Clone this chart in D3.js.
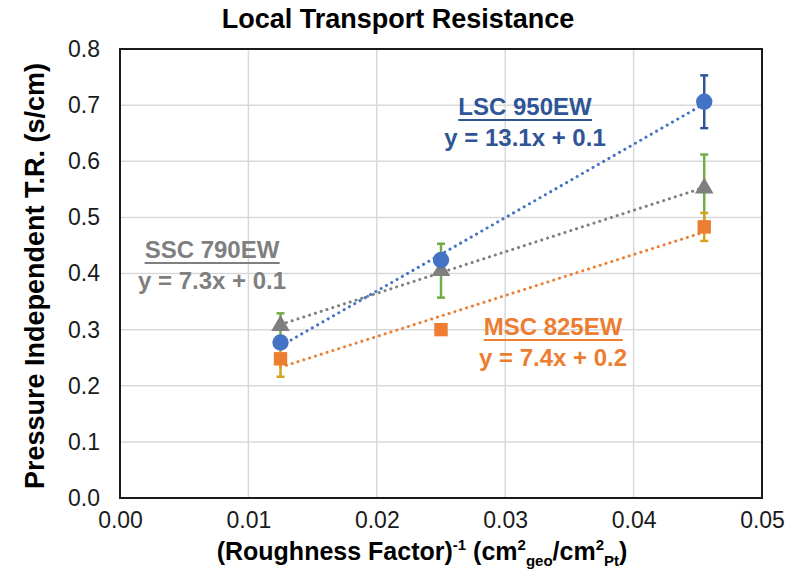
<!DOCTYPE html>
<html lang="en">
<head>
    <meta charset="utf-8" />
    <title>Local Transport Resistance</title>
    <script src="https://d3js.org/d3.v7.min.js"></script>
    <style>
        body { margin: 0; background: #fff; }
        svg { display: block; font-family: "Liberation Sans", Arial, sans-serif; }
    </style>
</head>
<body>
    <script>
        var w = 798;
        var h = 576;
        var padL = 120, padR = 762, padT = 49, padB = 498;

        // x values (inverse roughness factor)
        var xValues = [0.0125, 0.025, 0.0455];

        // series values
        var lscValues = [0.277, 0.424, 0.706];
        var lscErrors = [0, 0, 0.047];
        var sscValues = [0.307, 0.405, 0.552];
        var sscErrors = [0.022, 0.048, 0.06];
        var mscValues = [0.248, 0.300, 0.483];
        var mscErrors = [0.032, 0, 0.025];

        var xTicks = [0, 0.01, 0.02, 0.03, 0.04, 0.05];
        var yTicks = [0, 0.1, 0.2, 0.3, 0.4, 0.5, 0.6, 0.7, 0.8];

        var series = [
            { name: "SSC 790EW", eq: "y = 7.3x + 0.1", values: sscValues, errors: sscErrors,
              color: "#7f7f7f", errColor: "#70ad47", shape: "triangle", lx: 212, ly: 258 },
            { name: "LSC 950EW", eq: "y = 13.1x + 0.1", values: lscValues, errors: lscErrors,
              color: "#4472c4", errColor: "#2f5597", text: "#2f5597", shape: "circle", lx: 525, ly: 115 },
            { name: "MSC 825EW", eq: "y = 7.4x + 0.2", values: mscValues, errors: mscErrors,
              color: "#ed7d31", errColor: "#d4a21c", shape: "square", lx: 553, ly: 335 }
        ];

        var xScale = d3.scaleLinear().domain([0, 0.05]).range([padL, padR]);
        var yScale = d3.scaleLinear().domain([0, 0.8]).range([padB, padT]);

        var svg = d3.select("body").append("svg")
            .attr("width", w)
            .attr("height", h);

        // gridlines
        svg.append("g")
            .selectAll("line")
            .data(xTicks.slice(1, -1))
            .enter().append("line")
            .attr("x1", d => xScale(d)).attr("x2", d => xScale(d))
            .attr("y1", padT).attr("y2", padB)
            .attr("stroke", "#d9d9d9").attr("stroke-width", 1.5);
        svg.append("g")
            .selectAll("line")
            .data(yTicks.slice(1, -1))
            .enter().append("line")
            .attr("x1", padL).attr("x2", padR)
            .attr("y1", d => yScale(d)).attr("y2", d => yScale(d))
            .attr("stroke", "#d9d9d9").attr("stroke-width", 1.5);

        // axes (labels only, frame drawn below)
        var xAxis = d3.axisBottom(xScale).tickValues(xTicks).tickSize(0).tickPadding(14)
            .tickFormat(d3.format(".2f"));
        var gx = svg.append("g")
            .attr("transform", "translate(0," + padB + ")")
            .call(xAxis);
        var yAxis = d3.axisLeft(yScale).tickValues(yTicks).tickSize(0).tickPadding(20)
            .tickFormat(d3.format(".1f"));
        var gy = svg.append("g")
            .attr("transform", "translate(" + padL + ",0)")
            .call(yAxis);
        [gx, gy].forEach(function (g) {
            g.select(".domain").remove();
            g.selectAll("text")
                .attr("font-family", "'Liberation Sans', Arial, sans-serif")
                .attr("font-size", "23px")
                .attr("fill", "#1a1a1a");
        });

        // plot frame
        svg.append("rect")
            .attr("x", padL).attr("y", padT)
            .attr("width", padR - padL).attr("height", padB - padT)
            .attr("fill", "none").attr("stroke", "#1a1a1a").attr("stroke-width", 2);

        // trend lines (least squares fit of each series)
        series.forEach(function (s) {
            var n = xValues.length;
            var mx = d3.mean(xValues), my = d3.mean(s.values);
            var sxy = 0, sxx = 0;
            for (var i = 0; i < n; i++) {
                sxy += (xValues[i] - mx) * (s.values[i] - my);
                sxx += (xValues[i] - mx) * (xValues[i] - mx);
            }
            var slope = sxy / sxx, icpt = my - slope * mx;
            var x0 = d3.min(xValues), x1 = d3.max(xValues);
            svg.append("line")
                .attr("x1", xScale(x0)).attr("y1", yScale(icpt + slope * x0))
                .attr("x2", xScale(x1)).attr("y2", yScale(icpt + slope * x1))
                .attr("stroke", s.color).attr("stroke-width", 3)
                .attr("stroke-linecap", "round")
                .attr("stroke-dasharray", "0.1 6");
        });

        // error bars
        series.forEach(function (s) {
            var g = svg.append("g");
            xValues.forEach(function (x, i) {
                var e = s.errors[i];
                if (!e) return;
                var cx = xScale(x);
                var y1 = yScale(s.values[i] + e), y2 = yScale(s.values[i] - e);
                g.append("line").attr("x1", cx).attr("x2", cx).attr("y1", y1).attr("y2", y2)
                    .attr("stroke", s.errColor).attr("stroke-width", 2.5);
                [y1, y2].forEach(function (yy) {
                    g.append("line").attr("x1", cx - 4).attr("x2", cx + 4).attr("y1", yy).attr("y2", yy)
                        .attr("stroke", s.errColor).attr("stroke-width", 2.5);
                });
            });
        });

        // markers
        var symbols = { circle: d3.symbolCircle, square: d3.symbolSquare, triangle: d3.symbolTriangle };
        var sizes = { circle: 210, square: 180, triangle: 150 };
        series.forEach(function (s) {
            svg.append("g")
                .selectAll("path")
                .data(xValues)
                .enter().append("path")
                .attr("d", d3.symbol().type(symbols[s.shape]).size(sizes[s.shape]))
                .attr("transform", (d, i) => "translate(" + xScale(d) + "," + yScale(s.values[i]) + ")")
                .attr("fill", s.color);
        });

        // series labels with equations
        series.forEach(function (s) {
            var c = s.text || s.color;
            var t = svg.append("text")
                .attr("x", s.lx).attr("y", s.ly)
                .attr("text-anchor", "middle")
                .attr("font-size", "24px").attr("font-weight", "bold")
                .attr("fill", c)
                .text(s.name);
            var bb = t.node().getBBox();
            svg.append("line")
                .attr("x1", bb.x).attr("x2", bb.x + bb.width)
                .attr("y1", s.ly + 5).attr("y2", s.ly + 5)
                .attr("stroke", c).attr("stroke-width", 2);
            svg.append("text")
                .attr("x", s.lx).attr("y", s.ly + 31)
                .attr("text-anchor", "middle")
                .attr("font-size", "24px").attr("font-weight", "bold")
                .attr("fill", c)
                .text(s.eq);
        });

        // title
        svg.append("text")
            .attr("x", 398).attr("y", 28)
            .attr("text-anchor", "middle")
            .attr("font-size", "27px").attr("font-weight", "bold")
            .attr("fill", "#000")
            .text("Local Transport Resistance");

        // y label
        svg.append("text")
            .attr("transform", "rotate(-90)")
            .attr("x", -276).attr("y", 44)
            .attr("text-anchor", "middle")
            .attr("font-size", "27px").attr("font-weight", "bold")
            .attr("fill", "#000")
            .text("Pressure Independent  T.R. (s/cm)");

        // x label with super/subscripts
        var xl = svg.append("text")
            .attr("x", 422).attr("y", 560)
            .attr("text-anchor", "middle")
            .attr("font-size", "25px").attr("font-weight", "bold")
            .attr("fill", "#000");
        xl.append("tspan").text("(Roughness Factor)");
        xl.append("tspan").attr("font-size", "15px").attr("dy", -10).text("-1");
        xl.append("tspan").attr("dy", 10).text(" (cm");
        xl.append("tspan").attr("font-size", "15px").attr("dy", -10).text("2");
        xl.append("tspan").attr("font-size", "15px").attr("dy", 16).text("geo");
        xl.append("tspan").attr("dy", -6).text("/cm");
        xl.append("tspan").attr("font-size", "15px").attr("dy", -10).text("2");
        xl.append("tspan").attr("font-size", "15px").attr("dy", 16).text("Pt");
        xl.append("tspan").attr("dy", -6).text(")");
    </script>
</body>
</html>
